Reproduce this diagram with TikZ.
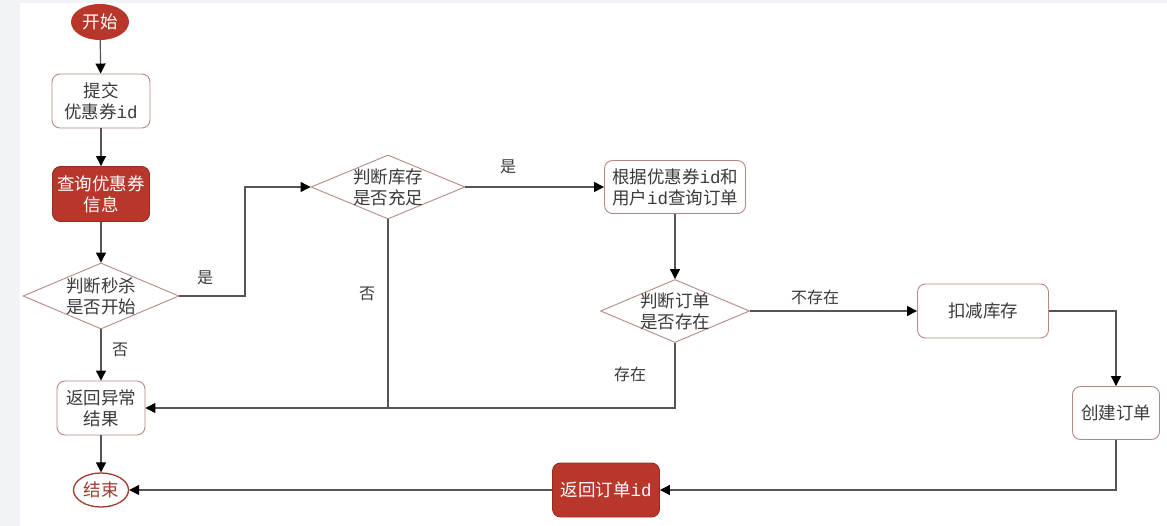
\documentclass[tikz,border=0pt]{standalone}
\usepackage{fontspec}
\setmainfont{Noto Sans CJK SC}
\newfontfamily\idfont{Liberation Mono}
\usetikzlibrary{shapes.geometric,arrows.meta}
\definecolor{redfill}{HTML}{B9372A}
\definecolor{boxline}{HTML}{B58A86}
\definecolor{endred}{HTML}{A3392D}
\definecolor{txtgray}{HTML}{3A3A3A}
\definecolor{linegray}{HTML}{555555}
\definecolor{bgstrip}{HTML}{F1F3F6}
\newcommand{\iid}{{\idfont id}}
\tikzset{
  base/.style={font=\fontsize{17.5}{21}\selectfont, align=center, inner sep=0pt},
  wbox/.style={base, rectangle, rounded corners=8pt, draw=boxline, line width=0.9pt, fill=white, text=txtgray},
  rbox/.style={base, rectangle, rounded corners=8pt, draw=redfill!80!black, line width=0.9pt, fill=redfill, text=white},
  dia/.style={diamond, aspect=2.4, inner sep=0pt, draw=boxline, line width=0.9pt, fill=white},
  diatext/.style={base, text=txtgray},
  conn/.style={draw=linegray, line width=1.2pt, -{Triangle[length=10pt,width=10pt,color=black]}},
  plain/.style={draw=linegray, line width=1.2pt},
  lbl/.style={font=\fontsize{16}{19}\selectfont, text=txtgray, inner sep=0pt}
}
\begin{document}
\begin{tikzpicture}[x=1pt,y=-1pt]
\useasboundingbox (0,0) rectangle (1167,526);
\fill[white] (0,0) rectangle (1167,526);
\fill[bgstrip] (0,0) rectangle (20,526);
\fill[bgstrip] (0,0) rectangle (1167,3);

\node[base, ellipse, fill=redfill, text=white, minimum width=58pt, minimum height=36pt] (s) at (100,22) {开始};
\node[wbox, minimum width=98pt, minimum height=54pt] (n1) at (101,101) {提交\\优惠券\iid};
\node[rbox, minimum width=97pt, minimum height=55pt] (n2) at (101,194) {查询优惠券\\信息};
\node[dia, minimum width=156pt, minimum height=66pt] (d1) at (101,296) {};
\node[diatext] (d1t) at (d1) {判断秒杀\\是否开始};
\node[wbox, minimum width=88pt, minimum height=54pt] (r1) at (101,408) {返回异常\\结果};
\node[base, ellipse, draw=endred, line width=1.3pt, fill=white, text=endred, minimum width=55pt, minimum height=34pt] (e) at (101,490) {结束};
\node[dia, minimum width=154pt, minimum height=64pt] (d2) at (388,187) {};
\node[diatext] (d2t) at (d2) {判断库存\\是否充足};
\node[wbox, minimum width=141pt, minimum height=53pt] (q) at (675,187) {根据优惠券\iid 和\\用户\iid 查询订单};
\node[dia, minimum width=149pt, minimum height=63pt] (d3) at (675,311) {};
\node[diatext] (d3t) at (d3) {判断订单\\是否存在};
\node[wbox, minimum width=131pt, minimum height=54pt] (k) at (983,311) {扣减库存};
\node[wbox, minimum width=87pt, minimum height=53pt] (c) at (1116,413) {创建订单};
\node[rbox, minimum width=107pt, minimum height=54pt] (ro) at (606,490) {返回订单\iid};

\coordinate (c1) at (245,187);

\draw[conn] (s) -- (n1);
\draw[conn] (n1) -- (n2);
\draw[conn] (n2) -- (d1);
\draw[conn] (d1.east) -| (c1) -- (d2.west);
\draw[conn] (d1) -- (r1);
\draw[conn] (r1) -- (e);
\draw[conn] (d2) -- (q);
\draw[plain] (d2.south) -- (d2.south |- r1.east);
\draw[conn] (d3.south) |- (r1.east);
\draw[conn] (q) -- (d3);
\draw[conn] (d3) -- (k);
\draw[conn] (k.east) -| (c.north);
\draw[conn] (c.south) |- (ro.east);
\draw[conn] (ro) -- (e);

\node[lbl] (l1) at (205,278) {是};
\node[lbl] (l2) at (120,350) {否};
\node[lbl] (l3) at (508,167) {是};
\node[lbl] (l4) at (367,294) {否};
\node[lbl] (l5) at (815,297) {不存在};
\node[lbl] (l6) at (630,374) {存在};
\end{tikzpicture}
\end{document}
